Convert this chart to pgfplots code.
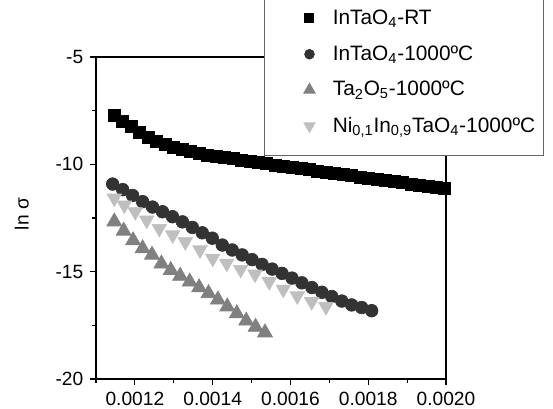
\documentclass[border=0pt]{standalone}
\usepackage{fontspec}
\setmainfont{Liberation Sans}
\usepackage{pgfplots}
\pgfplotsset{compat=1.18}

% one reference pixel = 0.6pt
\begin{document}
\fontsize{11.5}{13.5}\selectfont
\begin{tikzpicture}
\useasboundingbox (-57.6pt,-18pt) rectangle (274.2pt,227.4pt);
\begin{axis}[
    at={(0,0)}, anchor=south west,
    width=210pt, height=193.2pt, scale only axis,
    xmin=0.0011, xmax=0.0020,
    ymin=-20, ymax=-5,
    xtick={0.0012,0.0014,0.0016,0.0018,0.0020},
    minor xtick={0.0011,0.0013,0.0015,0.0017,0.0019},
    ytick={-20,-15,-10,-5},
    minor ytick={-17.5,-12.5,-7.5},
    tick align=outside, tick pos=left,
    major tick length=3.6pt, minor tick length=2.2pt,
    every tick/.style={black, line width=0.7pt},
    axis line style={line width=0.7pt},
    scaled x ticks=false,
    xticklabel style={/pgf/number format/.cd, fixed, fixed zerofill, precision=4},
    /pgf/number format/assume math mode=true,
    ylabel={ln σ},
    ylabel style={at={(axis description cs:-0.212,0.512)}, anchor=center},
    legend style={at={(rel axis cs:0.48,0.694)}, anchor=south west,
        draw=black!60, line width=0.6pt, fill=white,
        inner xsep=3pt, inner ysep=10pt, row sep=7pt,
        font=\fontsize{12.5}{14.5}\selectfont},
    legend cell align=left,
    legend image code/.code={%
        \path[draw=none] (-24pt,0pt) -- (12pt,0pt);
        \path[#1, draw=none, every mark/.append style={scale=0.75}] plot coordinates {(0pt,0pt)};},
]
% InTaO4-RT
\addplot[only marks, mark=square*, mark size=3.6pt, color=black] coordinates {
(0.001147,-7.74) (0.001169,-7.99) (0.001190,-8.25) (0.001212,-8.50)
(0.001234,-8.74) (0.001256,-8.92) (0.001278,-9.06) (0.001300,-9.20)
(0.001321,-9.31) (0.001343,-9.41) (0.001365,-9.49) (0.001387,-9.56)
(0.001409,-9.63) (0.001430,-9.69) (0.001452,-9.74) (0.001474,-9.80)
(0.001496,-9.86) (0.001518,-9.91) (0.001539,-9.97) (0.001561,-10.03)
(0.001583,-10.08) (0.001605,-10.14) (0.001627,-10.20) (0.001648,-10.25)
(0.001670,-10.31) (0.001692,-10.36) (0.001714,-10.42) (0.001736,-10.47)
(0.001757,-10.53) (0.001779,-10.59) (0.001801,-10.64) (0.001823,-10.70)
(0.001845,-10.75) (0.001866,-10.81) (0.001888,-10.86) (0.001910,-10.92)
(0.001932,-10.98) (0.001954,-11.03) (0.001975,-11.09) (0.001997,-11.14)
};
\addlegendentry{InTaO\textsubscript{4}-RT}
% InTaO4-1000C
\addplot[only marks, mark=*, mark size=3.8pt, color=black!80] coordinates {
(0.0011429,-10.92) (0.0011687,-11.18) (0.0011941,-11.45) (0.0012198,-11.74)
(0.0012453,-11.99) (0.0012710,-12.21) (0.0012967,-12.44) (0.0013222,-12.68)
(0.0013479,-12.94) (0.0013733,-13.19) (0.0013991,-13.44) (0.0014248,-13.76)
(0.0014502,-13.99) (0.0014759,-14.22) (0.0015014,-14.44) (0.0015271,-14.66)
(0.0015528,-14.88) (0.0015783,-15.08) (0.0016040,-15.30) (0.0016295,-15.52)
(0.0016552,-15.74) (0.0016809,-15.96) (0.0017063,-16.16) (0.0017321,-16.37)
(0.0017575,-16.55) (0.0017832,-16.67) (0.0018089,-16.82)
};
\addlegendentry{InTaO\textsubscript{4}-1000ºC}
% Ta2O5-1000C
\addplot[only marks, mark=triangle*, mark size=5.2pt, color=black!50] coordinates {
(0.0011471,-12.67) (0.0011712,-13.10) (0.0011954,-13.55) (0.0012198,-13.92)
(0.0012440,-14.22) (0.0012682,-14.63) (0.0012923,-14.93) (0.0013165,-15.20)
(0.0013409,-15.47) (0.0013651,-15.74) (0.0013893,-16.01) (0.0014135,-16.31)
(0.0014376,-16.63) (0.0014621,-16.95) (0.0014862,-17.29) (0.0015104,-17.58)
(0.0015346,-17.84)
};
\addlegendentry{Ta\textsubscript{2}O\textsubscript{5}-1000ºC}
% Ni0.1In0.9TaO4-1000C
\addplot[only marks, mark=triangle*, mark options={rotate=180}, mark size=5pt, color=black!25] coordinates {
(0.0011471,-11.58) (0.0011728,-11.90) (0.0012010,-12.21) (0.0012304,-12.60)
(0.0012628,-12.99) (0.0012972,-13.29) (0.0013296,-13.61) (0.0013674,-13.99)
(0.0014001,-14.38) (0.0014361,-14.61) (0.0014721,-14.90) (0.0015089,-15.12)
(0.0015456,-15.47) (0.0015816,-15.82) (0.0016176,-16.13) (0.0016546,-16.40)
(0.0016914,-16.63)
};
\addlegendentry{Ni\textsubscript{0,1}In\textsubscript{0,9}TaO\textsubscript{4}-1000ºC\hspace{12pt}}
\end{axis}
\end{tikzpicture}
\end{document}
